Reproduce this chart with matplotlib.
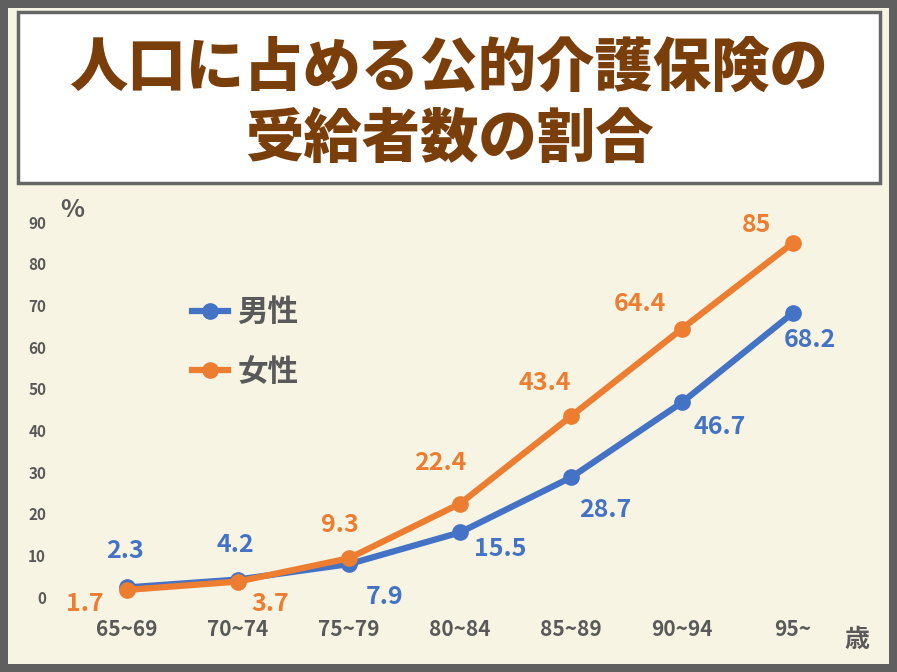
import matplotlib
matplotlib.use("Agg")
import matplotlib.pyplot as plt
from matplotlib.patches import Rectangle

categories = ["65~69", "70~74", "75~79", "80~84", "85~89", "90~94", "95~"]
male = [2.3, 4.2, 7.9, 15.5, 28.7, 46.7, 68.2]
female = [1.7, 3.7, 9.3, 22.4, 43.4, 64.4, 85]
yticks = [0, 10, 20, 30, 40, 50, 60, 70, 80, 90]

male_off = [(-2, 36), (-3, 35), (36, -33), (40, -17), (34, -33), (38, -25), (17, -27)]
female_off = [(-42, -14), (32, -22), (-9, 33), (-20, 41), (-26, 33), (-42, 25), (-36, 18)]

FONT = "Noto Sans CJK JP"
BLUE = "#4472c4"
ORANGE = "#ed7d31"
GRAY = "#595959"
W, H = 897, 672

fig = plt.figure(figsize=(8.97, 6.72), dpi=100)
fig.patch.set_facecolor("#5f5f5f")
fig.add_artist(Rectangle((8/W, 8/H), 881/W, 656/H, transform=fig.transFigure,
                         facecolor="#f7f4e4", edgecolor="none", zorder=-10))
fig.add_artist(Rectangle((18/W, 1-183/H), 862/W, 171/H, transform=fig.transFigure,
                         facecolor="white", edgecolor="#666666", linewidth=2.5, zorder=-9))
fig.text(449/W, 1-68/H, "人口に占める公的介護保険の", ha="center", va="center",
         fontsize=42, fontweight="black", color="#7a3e0a", family=FONT)
fig.text(449/W, 1-140/H, "受給者数の割合", ha="center", va="center",
         fontsize=42, fontweight="black", color="#7a3e0a", family=FONT)

ax = fig.add_axes([60/W, (H-600)/H, 800/W, 385/H])
ax.set_facecolor("none")
x = list(range(len(categories)))
ax.plot(x, male, color=BLUE, lw=4.5, marker="o", ms=11, label="男性", zorder=3)
ax.plot(x, female, color=ORANGE, lw=4.5, marker="o", ms=11, label="女性", zorder=4)
for i in x:
    ax.annotate(f"{male[i]:g}", (i, male[i]), xytext=male_off[i], textcoords="offset pixels",
                ha="center", va="center", fontsize=18, fontweight="bold", color=BLUE, family=FONT)
    ax.annotate(f"{female[i]:g}", (i, female[i]), xytext=female_off[i], textcoords="offset pixels",
                ha="center", va="center", fontsize=18, fontweight="bold", color=ORANGE, family=FONT)
ax.set_xlim(-0.604, 6.604)
ax.set_ylim(-0.72, 91.7)
ax.set_yticks(yticks)
ax.set_yticklabels([str(v) for v in yticks], fontsize=11, fontweight="bold", color=GRAY, family=FONT)
ax.set_xticks(x)
ax.set_xticklabels(categories, fontsize=15, fontweight="bold", color=GRAY, family=FONT)
ax.tick_params(length=0, pad=14)
ax.tick_params(axis="y", pad=10)
for s in ax.spines.values():
    s.set_visible(False)
leg = ax.legend(loc="upper left", bbox_to_anchor=(0.13, 0.86), frameon=False,
                prop={"family": FONT, "size": 22, "weight": "bold"}, labelspacing=0.9,
                handlelength=1.2, handletextpad=0.3)
for t in leg.get_texts():
    t.set_color(GRAY)
fig.text(72/W, 1-210/H, "%", ha="center", va="center", fontsize=18, fontweight="bold", color=GRAY, family=FONT)
fig.text(857/W, 1-640/H, "歳", ha="center", va="center", fontsize=18, fontweight="bold", color=GRAY, family=FONT)
fig.savefig("out.png", dpi=100, facecolor=fig.get_facecolor())
